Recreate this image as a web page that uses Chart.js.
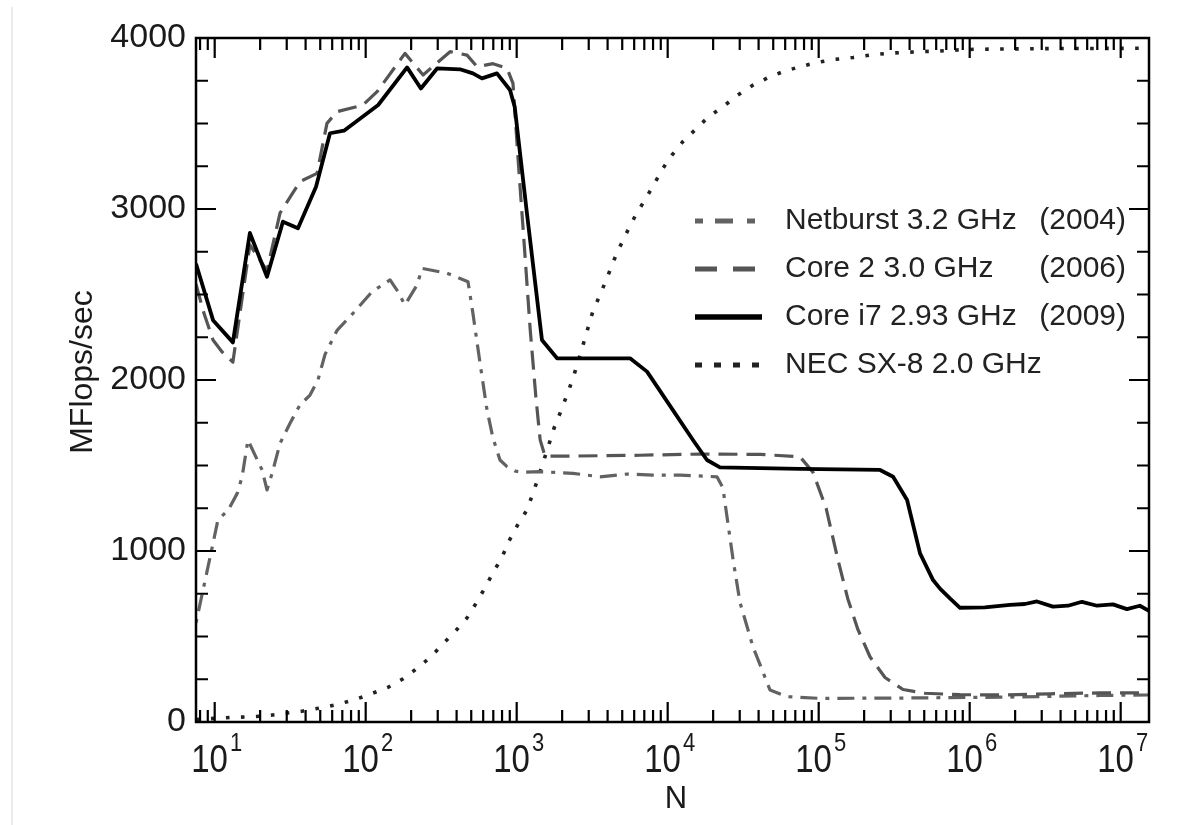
<!DOCTYPE html>
<html>
<head>
<meta charset="utf-8">
<title>MFlops/sec vs N</title>
<script src="https://cdn.jsdelivr.net/npm/chart.js@4.4.0/dist/chart.umd.min.js"></script>
<style>
  html, body { margin: 0; padding: 0; background: #fff; }
  canvas { display: block; }
</style>
</head>
<body>
<canvas id="chart" width="1199" height="825"></canvas>
<script>
// series data, N on a log axis, MFlops/sec on the y axis
const netburstN = [7.52, 8.37, 8.89, 9.75, 10.5, 12.3, 14.1, 15.2, 16.6, 18.5, 20.6, 22.2, 24.0, 27.1, 31.5, 36.7, 42.8, 48.3, 53.8, 64.6, 82.4, 110, 145, 161, 182, 219, 236, 346, 476, 513, 572, 636, 697, 775, 863, 970, 1100, 1430, 2360, 3560, 5380, 7990, 12100, 21200, 23200, 24700, 27100, 30100, 36700, 47600, 61700, 102000, 346000, 1590000, 7300000, 15400000];
const netburstMF = [580, 772, 879, 1045, 1181, 1240, 1337, 1435, 1649, 1561, 1474, 1357, 1454, 1630, 1746, 1854, 1912, 2000, 2150, 2290, 2390, 2516, 2585, 2526, 2439, 2556, 2653, 2624, 2575, 2390, 2098, 1825, 1660, 1532, 1493, 1468, 1460, 1464, 1454, 1434, 1450, 1444, 1444, 1434, 1370, 1201, 950, 700, 440, 187, 148, 138, 140, 145, 155, 158];

const core2N = [7.52, 8.49, 9.75, 11.2, 13.2, 17.1, 22.2, 27.1, 36.7, 47.6, 55.4, 64.6, 95.9, 119, 182, 240, 362, 469, 546, 697, 863, 945, 1020, 1120, 1230, 1340, 1430, 1540, 2250, 6560, 16400, 40900, 75200, 91700, 112000, 134000, 156000, 182000, 219000, 275000, 362000, 506000, 863000, 1590000, 3400000, 7300000, 15400000];
const core2MF = [2560, 2390, 2234, 2164, 2105, 2790, 2640, 2977, 3160, 3208, 3501, 3569, 3608, 3686, 3910, 3784, 3920, 3900, 3832, 3850, 3822, 3735, 3300, 2800, 2290, 1900, 1650, 1555, 1555, 1560, 1567, 1565, 1551, 1460, 1250, 950, 720, 540, 380, 260, 190, 168, 160, 158, 165, 170, 170];

const corei7N = [7.52, 9.75, 13.2, 17.1, 22.2, 28.3, 35.6, 46.9, 58.0, 71.8, 121, 188, 232, 297, 421, 513, 589, 740, 903, 970, 1170, 1470, 1850, 5630, 7300, 10800, 14700, 18200, 22200, 75200, 255000, 311000, 385000, 469000, 572000, 636000, 740000, 863000, 1260000, 1850000, 2320000, 2790000, 3560000, 4480000, 5540000, 6970000, 8890000, 11000000, 13400000, 15400000];
const corei7MF = [2680, 2350, 2220, 2860, 2604, 2926, 2887, 3130, 3443, 3458, 3608, 3828, 3705, 3822, 3817, 3793, 3764, 3793, 3696, 3598, 2973, 2234, 2127, 2127, 2049, 1825, 1649, 1532, 1489, 1480, 1474, 1434, 1298, 986, 830, 780, 723, 668, 670, 685, 690, 705, 675, 680, 703, 680, 688, 660, 680, 650];

const necN = [7.52, 10.4, 13.2, 17.7, 22.5, 29.2, 38.5, 51.4, 65.6, 86.3, 108, 141, 177, 219, 271, 325, 390, 469, 538, 617, 697, 799, 889, 1005, 1170, 1320, 1450, 1590, 1770, 1970, 2150, 2360, 2750, 2970, 3200, 3560, 3960, 4340, 4830, 5460, 6170, 7070, 8110, 9310, 10700, 12600, 15400, 18500, 23200, 28800, 36200, 46200, 58000, 75200, 97400, 128000, 169000, 219000, 283000, 373000, 483000, 636000, 824000, 1080000, 3400000, 15400000];
const necMF = [15, 22, 27, 31, 37, 51, 64, 84, 104, 133, 164, 203, 253, 314, 382, 457, 528, 609, 694, 785, 873, 963, 1058, 1146, 1240, 1370, 1480, 1590, 1720, 1822, 1912, 2010, 2205, 2306, 2404, 2497, 2595, 2688, 2780, 2877, 2969, 3053, 3144, 3238, 3316, 3394, 3468, 3536, 3598, 3663, 3721, 3768, 3803, 3832, 3857, 3875, 3886, 3900, 3910, 3916, 3920, 3924, 3930, 3934, 3938, 3940];

const seriesNames = ["Netburst 3.2 GHz", "Core 2 3.0 GHz", "Core i7 2.93 GHz", "NEC SX-8 2.0 GHz"];
const seriesYears = ["(2004)", "(2006)", "(2009)", ""];
const yTicks = [0, 1000, 2000, 3000, 4000];
const xDecades = [1, 2, 3, 4, 5, 6, 7];

const FONT = "'Liberation Sans', Arial, Helvetica, sans-serif";

function pts(xs, ys) {
  return xs.map(function (v, i) { return { x: v, y: ys[i] }; });
}

// frame, inward ticks, x labels with exponents, axis titles and legend
const decor = {
  id: "decor",
  beforeDraw: function (chart) {
    const ctx = chart.ctx;
    ctx.save();
    ctx.fillStyle = "#fff";
    ctx.fillRect(0, 0, chart.width, chart.height);
    ctx.strokeStyle = "#e4e4e4";
    ctx.lineWidth = 1.5;
    ctx.beginPath();
    ctx.moveTo(12, 7);
    ctx.lineTo(12, chart.height);
    ctx.stroke();
    ctx.restore();
  },
  afterDatasetsDraw: function (chart) {
    const ctx = chart.ctx, a = chart.chartArea;
    const xs = chart.scales.x, ys = chart.scales.y;
    ctx.save();
    ctx.strokeStyle = "#000";
    ctx.lineWidth = 2.5;
    ctx.strokeRect(a.left, a.top, a.right - a.left, a.bottom - a.top);

    ctx.lineWidth = 2.2;
    ctx.beginPath();
    for (let v = 0; v <= 4000; v += 250) {
      const py = ys.getPixelForValue(v);
      const len = v % 1000 === 0 ? 20 : 12;
      ctx.moveTo(a.left, py); ctx.lineTo(a.left + len, py);
      ctx.moveTo(a.right, py); ctx.lineTo(a.right - len, py);
    }
    for (let e = 0; e <= 7; e++) {
      for (let m = 1; m <= 9; m++) {
        const v = m * Math.pow(10, e);
        if (v < xs.min || v > xs.max) continue;
        const px = xs.getPixelForValue(v);
        const len = m === 1 ? 20 : 12;
        ctx.moveTo(px, a.bottom); ctx.lineTo(px, a.bottom - len);
        ctx.moveTo(px, a.top); ctx.lineTo(px, a.top + len);
      }
    }
    ctx.stroke();

    // x tick labels: 10 with a raised exponent
    ctx.fillStyle = "#1a1a1a";
    ctx.textBaseline = "alphabetic";
    xDecades.forEach(function (e) {
      const px = xs.getPixelForValue(Math.pow(10, e));
      ctx.font = "33px " + FONT;
      const w1 = ctx.measureText("10").width;
      ctx.font = "22px " + FONT;
      const w2 = ctx.measureText(String(e)).width;
      const x0 = px + 2 - (w1 + w2 + 2) / 2;
      ctx.save();
      ctx.translate(x0, 772);
      ctx.scale(1, 1.15);
      ctx.font = "33px " + FONT;
      ctx.textAlign = "left";
      ctx.fillText("10", 0, 0);
      ctx.restore();
      ctx.save();
      ctx.translate(x0 + w1 + 2, 751);
      ctx.scale(1, 1.15);
      ctx.font = "22px " + FONT;
      ctx.textAlign = "left";
      ctx.fillText(String(e), 0, 0);
      ctx.restore();
    });

    // axis titles
    ctx.font = "31px " + FONT;
    ctx.textAlign = "center";
    ctx.fillText("N", 676, 808);
    ctx.save();
    ctx.translate(92, 372);
    ctx.rotate(-Math.PI / 2);
    ctx.font = "32px " + FONT;
    ctx.fillText("MFlops/sec", 0, 0);
    ctx.restore();

    // legend
    const dashes = [[8, 12, 18, 14], [22, 16], [], [7, 12]];
    const rowY = [221, 269, 317, 365];
    chart.data.datasets.forEach(function (ds, i) {
      const y = rowY[i];
      ctx.save();
      ctx.strokeStyle = ds.borderColor;
      ctx.lineWidth = i === 2 ? 5.5 : 5;
      ctx.lineCap = "butt";
      ctx.setLineDash(dashes[i]);
      ctx.beginPath();
      ctx.moveTo(695, y);
      ctx.lineTo(i === 2 ? 762 : 760, y);
      ctx.stroke();
      ctx.restore();
      ctx.font = "30px " + FONT;
      ctx.fillStyle = "#222";
      ctx.textAlign = "left";
      ctx.textBaseline = "middle";
      ctx.fillText(seriesNames[i], 785, y);
      if (seriesYears[i]) {
        ctx.textAlign = "right";
        ctx.fillText(seriesYears[i], 1126, y);
      }
    });
    ctx.restore();
  }
};

new Chart(document.getElementById("chart"), {
  type: "line",
  data: {
    datasets: [
      {
        label: seriesNames[0],
        data: pts(netburstN, netburstMF),
        borderColor: "#626262",
        borderWidth: 3.2,
        borderDash: [4, 8, 17, 8],
        order: 2
      },
      {
        label: seriesNames[1],
        data: pts(core2N, core2MF),
        borderColor: "#555555",
        borderWidth: 3.2,
        borderDash: [19, 9],
        order: 1
      },
      {
        label: seriesNames[2],
        data: pts(corei7N, corei7MF),
        borderColor: "#000000",
        borderWidth: 3.8,
        order: 0
      },
      {
        label: seriesNames[3],
        data: pts(necN, necMF),
        borderColor: "#222222",
        borderWidth: 3.6,
        borderDash: [3.6, 11.4],
        order: 3
      }
    ]
  },
  options: {
    responsive: false,
    animation: false,
    devicePixelRatio: 1,
    layout: { padding: { top: 38, right: 50, bottom: 0, left: 0 } },
    elements: {
      point: { radius: 0, hoverRadius: 0 },
      line: { tension: 0, fill: false, borderJoinStyle: "round" }
    },
    plugins: {
      legend: { display: false },
      tooltip: { enabled: false }
    },
    scales: {
      x: {
        type: "logarithmic",
        min: 7.52,
        max: 15400000,
        grid: { display: false, drawTicks: false },
        border: { display: false },
        ticks: { display: false },
        afterFit: function (scale) { scale.height = 103; }
      },
      y: {
        min: 0,
        max: 4000,
        afterBuildTicks: function (scale) {
          scale.ticks = yTicks.map(function (v) { return { value: v }; });
        },
        grid: { display: false, drawTicks: false },
        border: { display: false },
        ticks: {
          padding: 10,
          color: "#1a1a1a",
          font: { family: FONT, size: 34 },
          callback: function (v) { return String(v); }
        },
        afterFit: function (scale) { scale.width = 196; }
      }
    }
  },
  plugins: [decor]
});
</script>
</body>
</html>
